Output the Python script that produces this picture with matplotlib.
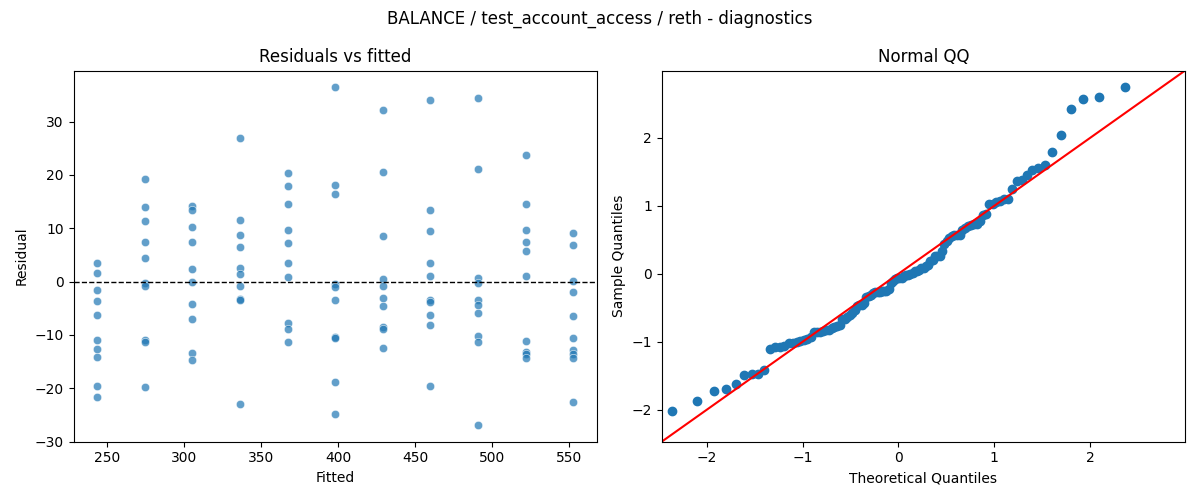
from statistics import NormalDist

import matplotlib
matplotlib.use("Agg")
import matplotlib.pyplot as plt
import numpy as np
import seaborn as sns

# fitted value of each group and the residuals
fitted_levels = [243.5, 274.4, 305.3, 336.2, 367.1, 398.0, 428.9, 459.8, 490.7, 521.6, 552.5]
residuals_by_level = [
    [3.4, 1.7, -1.5, -3.6, -6.2, -10.9, -12.7, -14.1, -19.5, -21.6],
    [19.3, 13.9, 11.4, 7.5, 4.5, -0.3, -0.8, -10.9, -11.3, -19.7],
    [14.1, 13.5, 10.3, 7.5, 2.4, 0.0, -4.1, -7.0, -13.3, -14.6],
    [27.0, 11.6, 8.8, 6.4, 2.6, 1.5, -0.9, -3.3, -3.5, -22.9],
    [20.3, 18.0, 14.6, 9.6, 7.3, 3.4, 0.8, -7.7, -8.8, -11.4],
    [36.4, 18.2, 16.5, -0.4, -1.1, -3.4, -10.3, -10.6, -18.8, -24.8],
    [32.1, 20.6, 8.6, 0.55, -0.8, -3.0, -4.5, -8.5, -8.9, -12.4],
    [34.1, 13.5, 9.4, 3.4, 1.1, -3.4, -3.8, -6.2, -8.1, -19.5],
    [34.5, 21.2, 0.6, -0.25, -3.5, -4.3, -5.8, -10.1, -11.3, -26.85],
    [23.8, 14.6, 9.75, 7.5, 5.8, 1.1, -11.1, -13.1, -13.5, -14.3],
    [9.2, 6.9, 0.2, -1.9, -6.4, -10.5, -12.9, -13.5, -14.4, -22.5],
]

title = "BALANCE / test_account_access / reth - diagnostics"
qq_lims = (-2.47, 2.99)

fitted = np.concatenate([[f] * len(r) for f, r in zip(fitted_levels, residuals_by_level)])
resid = np.concatenate(residuals_by_level)

fig, (ax1, ax2) = plt.subplots(1, 2, figsize=(12, 5))

# Residuals vs fitted
sns.scatterplot(x=fitted, y=resid, alpha=0.7, ax=ax1)
ax1.axhline(0, color="black", linestyle="--", linewidth=1)
ax1.set_title("Residuals vs fitted")
ax1.set_xlabel("Fitted")
ax1.set_ylabel("Residual")

# Normal QQ (standardised residuals against normal quantiles)
n = len(resid)
sample_q = np.sort((resid - resid.mean()) / resid.std())
theo_q = np.array([NormalDist().inv_cdf(i / (n + 1)) for i in range(1, n + 1)])
ax2.plot(theo_q, sample_q, "o", color="C0")
ax2.plot(qq_lims, qq_lims, color="red")
ax2.set_xlim(qq_lims)
ax2.set_ylim(qq_lims)
ax2.set_title("Normal QQ")
ax2.set_xlabel("Theoretical Quantiles")
ax2.set_ylabel("Sample Quantiles")

fig.suptitle(title)
plt.tight_layout()
plt.savefig("out.png", dpi=100)
plt.close(fig)
